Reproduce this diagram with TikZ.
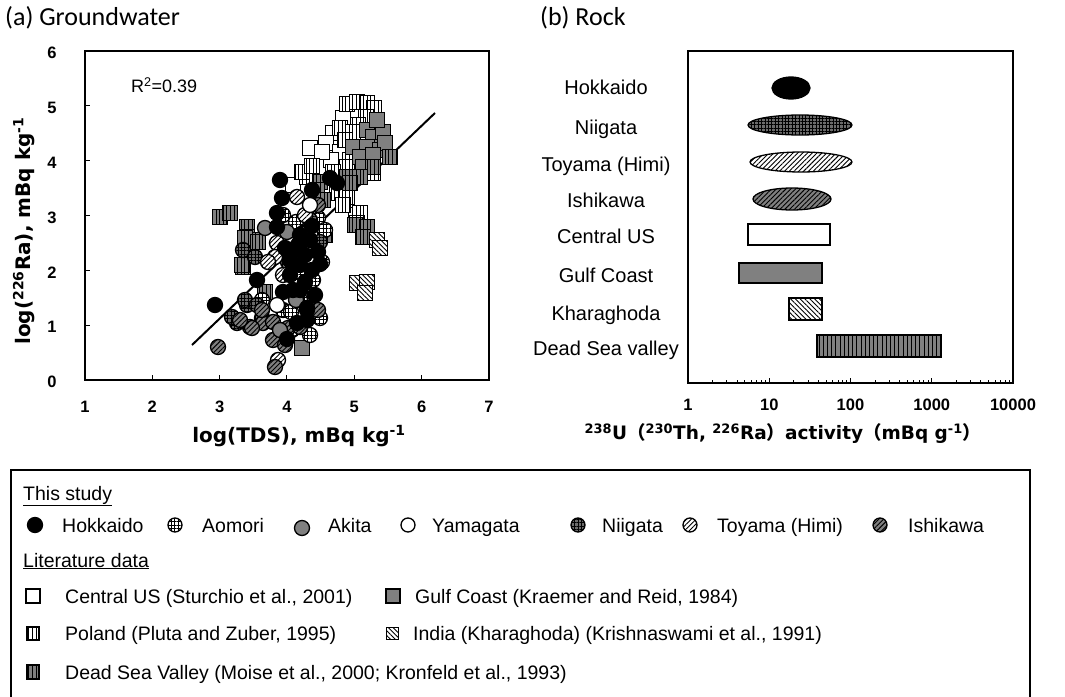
\documentclass[tikz,border=0pt]{standalone}
\usepackage{fontspec}
\setmainfont{Liberation Sans}
\newfontfamily\titlefont{Carlito}
\newfontfamily\heavy{DejaVu Sans}
\newfontfamily\cjkfont{Noto Sans CJK JP}
\usetikzlibrary{patterns.meta}
\definecolor{midgray}{gray}{0.5}
\definecolor{dgray}{gray}{0.42}
\tikzset{
 mk/.style={draw=black,line width=1.3pt},
 hok/.style={mk,fill=black},
 aom/.style={mk,preaction={fill=white},pattern={Hatch[angle=0,distance=3.8pt,line width=0.8pt]}},
 aki/.style={mk,fill=midgray},
 yam/.style={mk,fill=white},
 nii/.style={mk,preaction={fill=dgray},pattern={Hatch[angle=0,distance=3.4pt,line width=0.8pt]}},
 toy/.style={mk,preaction={fill=white},pattern={Lines[angle=45,distance=3.4pt,line width=0.9pt]}},
 ish/.style={mk,preaction={fill=midgray},pattern={Lines[angle=45,distance=3.4pt,line width=0.9pt]}},
 cus/.style={mk,fill=white},
 pol/.style={mk,preaction={fill=white},pattern={Lines[angle=90,distance=3.6pt,line width=0.9pt]}},
 gul/.style={mk,fill=midgray},
 dsv/.style={mk,preaction={fill=midgray},pattern={Lines[angle=90,distance=3.6pt,line width=0.9pt]}},
 ind/.style={mk,preaction={fill=white},pattern={Lines[angle=-45,distance=3.4pt,line width=0.9pt]}},
 frame/.style={draw=black,line width=1.8pt},
 tick/.style={inner sep=0pt,font=\fontsize{16.5}{19}\selectfont\bfseries},
 lab/.style={inner sep=0pt,anchor=base,font=\fontsize{20}{24}\selectfont},
 leg/.style={inner sep=0pt,anchor=base west,font=\fontsize{19.5}{24}\selectfont},
 axt/.style={inner sep=0pt,font=\fontsize{20}{24}\selectfont\heavy\bfseries},
 ttl/.style={inner sep=0pt,anchor=west,font=\fontsize{26}{30}\selectfont\titlefont},
}
\begin{document}
\begin{tikzpicture}[x=1pt,y=-1pt]
\useasboundingbox (0,0) rectangle (1065,696);
% titles
\node[ttl] (ta) at (5,18) {(a) Groundwater};
\node[ttl] (tb) at (540,18) {(b) Rock};
% ---------- panel (a)
\draw[line width=2pt] (192,345) -- (435,113);
% squares
\foreach \x/\y in {310/148,343/118,333/133,326/143,340/152,331/160,322/152,345/188,293/185,356/215}
  \draw[cus] (\x-7.5,\y-7.5) rectangle ++(15,15);
\foreach \x/\y in {347/104,357/102,367/103,374/108,366/117,340/128,358/125,353/132,345/140,350/160,347/167,307/177,333/172,373/173,337/193,347/197,343/205,360/213,357/223,302/172,312/166}
  \draw[pol] (\x-7.5,\y-7.5) rectangle ++(15,15);
\foreach \x/\y in {367/130,373/137,383/132,377/120,353/147,367/147,380/150,385/143,360/157,373/155,363/167,302/348}
  \draw[gul] (\x-7.5,\y-7.5) rectangle ++(15,15);
\foreach \x/\y in {390/157,373/167,320/182,347/177,360/177,317/190,350/183,323/200,355/225,367/227,363/237,325/235,220/217,230/213,247/227,247/237,257/240,245/238,258/242,243/267,242/265,265/292}
  \draw[dsv] (\x-7.5,\y-7.5) rectangle ++(15,15);
\foreach \x/\y in {377/240,380/248,357/283,367/282,365/293}
  \draw[ind] (\x-7.5,\y-7.5) rectangle ++(15,15);
% circles
\foreach \x/\y in {283/310,291/312,313/295,313/280,250/327,298/272,318/245,322/262,300/300,292/330,320/318,310/335,262/300,283/215,296/222,318/218,325/230}
  \draw[aom] (\x,\y) circle[radius=7.5];
\foreach \x/\y in {237/323,247/305,243/250,255/257,245/300,262/318,310/220,320/242,288/262,232/317,303/233,257/305}
  \draw[nii] (\x,\y) circle[radius=7.5];
\foreach \x/\y in {297/197,277/243,275/257,278/360,305/215,283/275,268/262}
  \draw[toy] (\x,\y) circle[radius=7.5];
\foreach \x/\y in {218/347,275/367,273/340,288/328,300/327,318/310,263/323,273/322,285/345,252/328,262/310,300/243,318/205,240/320}
  \draw[ish] (\x,\y) circle[radius=7.5];
\foreach \x/\y in {265/228,280/330,296/300,287/232}
  \draw[aki] (\x,\y) circle[radius=7.5];
\foreach \x/\y in {280/180,282/198,277/213,277/227,312/190,330/178,337/183,300/235,310/240,295/250,305/255,318/252,300/265,312/270,290/275,305/282,320/264,315/295,300/290,307/310,215/305,283/292,287/339,297/323,307/320,307/308,257/280,290/260,298/245,312/226,285/248,293/290}
  \draw[hok] (\x,\y) circle[radius=7.5];
\foreach \x/\y in {310/205,277/305}
  \draw[yam] (\x,\y) circle[radius=7.5];
% frame and ticks
\draw[frame] (85,51) rectangle (489,380);
\foreach \v in {1,...,5} \draw[line width=1pt] (85,{380-54.83*\v}) -- ++(5,0);
\foreach \v in {2,...,6} \draw[line width=1pt] ({85+67.33*(\v-1)},380) -- ++(0,-5);
\foreach \v in {0,...,6} \node[tick] (ya\v) at (52,{382-54.83*\v}) {\v};
\foreach \v in {1,...,7} \node[tick] (xa\v) at ({85+67.33*(\v-1)},407) {\v};
\node[inner sep=0pt,anchor=west,font=\fontsize{18}{22}\selectfont] (r2) at (131,85) {R\textsuperscript{2}=0.39};
\node[axt] (xta) at (299,436) {log(TDS), mBq kg\textsuperscript{-1}};
\node[axt,rotate=90] (yta) at (24,231) {log(\textsuperscript{226}Ra), mBq kg\textsuperscript{-1}};
% ---------- panel (b)
\foreach \n/\t/\y in {h/Hokkaido/87,n/Niigata/127,t/Toyama (Himi)/164,i/Ishikawa/200,c/Central US/236,g/Gulf Coast/275,k/Kharaghoda/313,d/Dead Sea valley/348}
  \node[lab] (lb\n) at (606,\y+7) {\t};
\draw[hok] (791,88) ellipse[x radius=19,y radius=11];
\draw[nii] (800,125) ellipse[x radius=52,y radius=10];
\draw[toy] (801,162) ellipse[x radius=51,y radius=10];
\draw[ish] (792,199) ellipse[x radius=39,y radius=11];
\draw[cus] (748,224) rectangle (830,245);
\draw[gul] (739,263) rectangle (822,283);
\draw[ind] (789,298) rectangle (822,320);
\draw[dsv,pattern={Lines[angle=90,distance=4.2pt,line width=1pt]}] (817,335) rectangle (941,357);
\draw[frame] (688,51) rectangle (1013,383);
\foreach \d in {0,1,2,3} {
  \foreach \m in {2,...,9} \draw[line width=0.8pt] ({688+81.25*(\d+log10(\m))},383) -- ++(0,-3);
}
\foreach \d in {1,2,3} \draw[line width=1pt] ({688+81.25*\d},383) -- ++(0,-5);
\foreach \d/\t in {0/1,1/10,2/100,3/1000,4/10000} \node[tick] (xb\d) at ({688+81.25*\d},405) {\t};
\node[axt,font=\fontsize{18.5}{22}\selectfont\heavy\bfseries] (xtb) at (783,434) {\textsuperscript{238}U{\cjkfont （}\textsuperscript{230}Th, \textsuperscript{226}Ra{\cjkfont ）}activity{\cjkfont （}mBq g\textsuperscript{-1}{\cjkfont ）}};
% ---------- legend
\draw[line width=1.6pt] (11,470) rectangle (1030,702);
\node[leg] (l1) at (23,500) {\underline{This study}};
\draw[hok] (35,525) circle[radius=7.5];   \node[leg] (lh) at (62,532) {Hokkaido};
\draw[aom] (175,525) circle[radius=7];    \node[leg] (la) at (202,532) {Aomori};
\draw[aki] (302,528) circle[radius=7.5];  \node[leg] (lk) at (328,532) {Akita};
\draw[yam] (408,525) circle[radius=7];    \node[leg] (ly) at (432,532) {Yamagata};
\draw[nii] (578,525) circle[radius=7];    \node[leg] (ln) at (602,532) {Niigata};
\draw[toy] (690,525) circle[radius=7];    \node[leg] (lt) at (717,532) {Toyama (Himi)};
\draw[ish] (880,525) circle[radius=7];    \node[leg] (li) at (908,532) {Ishikawa};
\node[leg] (l2) at (23,567) {\underline{Literature data}};
\draw[cus] (26,589) rectangle ++(14,14);  \node[leg] (lc) at (65,603) {Central US (Sturchio et al., 2001)};
\draw[gul] (386,589) rectangle ++(14,14); \node[leg] (lg) at (415,603) {Gulf Coast (Kraemer and Reid, 1984)};
\draw[pol] (27,627) rectangle ++(12,13);  \node[leg] (lp) at (65,640) {Poland (Pluta and Zuber, 1995)};
\draw[ind,line width=1pt] (386,627) rectangle ++(12,12); \node[leg] (lx) at (413,640) {India (Kharaghoda) (Krishnaswami et al., 1991)};
\draw[dsv] (27,665) rectangle ++(12,14);  \node[leg] (ld) at (65,679) {Dead Sea Valley (Moise et al., 2000; Kronfeld et al., 1993)};
\end{tikzpicture}
\end{document}
